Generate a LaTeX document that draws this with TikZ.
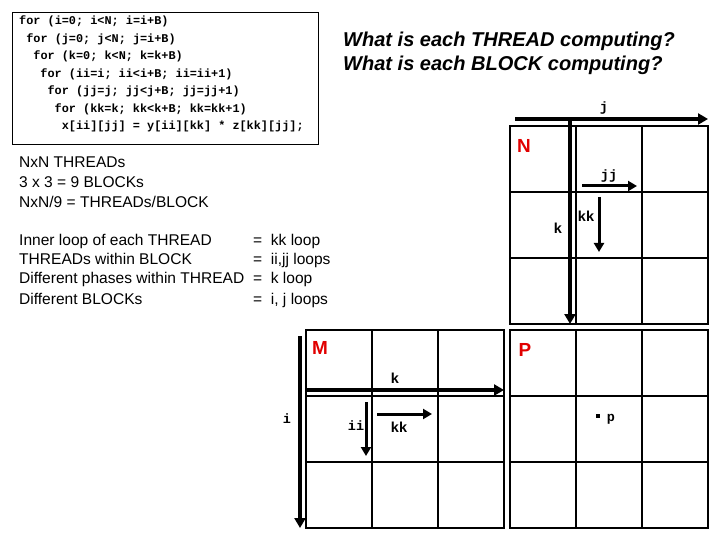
\documentclass[tikz,border=0pt]{standalone}
\usepackage{fontspec}
\setmainfont{Liberation Sans}
\newfontfamily\codefont{Liberation Mono}
\usetikzlibrary{arrows.meta}
\definecolor{mred}{RGB}{225,0,0}

\tikzset{
    cell/.style={draw, rectangle, minimum size=66bp, inner sep=0pt, line width=1.1bp},
    codeline/.style={anchor=base west, inner sep=0pt, font=\codefont\bfseries\fontsize{11.9}{14}\selectfont},
    txt/.style={anchor=base west, inner sep=0pt, font=\fontsize{15.6}{18}\selectfont},
    question/.style={anchor=base west, inner sep=0pt, font=\bfseries\itshape\fontsize{20.1}{23}\selectfont},
    mname/.style={inner sep=0pt, text=mred, font=\bfseries\fontsize{19}{22}\selectfont},
    idx/.style={inner sep=0pt, font=\codefont\bfseries\fontsize{13.5}{15}\selectfont},
    sidx/.style={inner sep=0pt, font=\bfseries\fontsize{14.5}{16}\selectfont},
    bigarrow/.style={line width=3.6bp, -{Triangle[length=10bp,width=11bp]}},
    smallarrow/.style={line width=3bp, -{Triangle[length=9bp,width=10bp]}}
}

\begin{document}
\begin{tikzpicture}[x=1bp, y=-1bp]
    \useasboundingbox (0,0) rectangle (720,540);

    % loop nest
    \node[draw, line width=0.9bp, inner sep=0pt, minimum width=306bp, minimum height=132bp, anchor=north west] (codebox) at (12,12) {};
    \foreach \n/\t in {0/{for (i=0; i<N; i=i+B)}, 1/{for (j=0; j<N; j=i+B)}, 2/{for (k=0; k<N; k=k+B)},
        3/{for (ii=i; ii<i+B; ii=ii+1)}, 4/{for (jj=j; jj<j+B; jj=jj+1)}, 5/{for (kk=k; kk<k+B; kk=kk+1)},
        6/{x[ii][jj] = y[ii][kk] * z[kk][jj];}} {
        \node[codeline] (code\n) at (19+7.1*\n, 25+17.5*\n) {\t};
    }

    \node[question] (q1) at (343,47) {What is each THREAD computing?};
    \node[question] (q2) at (343,71) {What is each BLOCK computing?};

    % notes
    \node[txt] (t1) at (19,168) {NxN THREADs};
    \node[txt] (t2) at (19,188) {3 x 3 = 9 BLOCKs};
    \node[txt] (t3) at (19,208) {NxN/9 = THREADs/BLOCK};
    \node[txt] (l1) at (19,246) {Inner loop of each THREAD};
    \node[txt] (l2) at (19,265) {THREADs within BLOCK};
    \node[txt] (l3) at (19,284) {Different phases within THREAD};
    \node[txt] (l4) at (19,304) {Different BLOCKs};
    \node[txt] (r1) at (253,246) {= \ kk loop};
    \node[txt] (r2) at (253,265) {= \ ii,jj loops};
    \node[txt] (r3) at (253,284) {= \ k loop};
    \node[txt] (r4) at (253,304) {= \ i, j loops};

    % the three matrices
    \foreach \m/\x/\y in {N/510/126, M/306/330, P/510/330} {
        \foreach \r in {0,1,2} {
            \foreach \c in {0,1,2} {
                \node[cell] (\m\r\c) at (\x+33+66*\c, \y+33+66*\r) {};
            }
        }
    }
    \node[mname] (nname) at (524,146) {N};
    \node[mname] (mname) at (320,348) {M};
    \node[mname] (pname) at (525,350) {P};

    % N
    \coordinate (j0) at (515,119);
    \coordinate (j1) at (708,119);
    \draw[bigarrow] (j0) -- (j1);
    \node[idx] (jlab) at (604,108) {j};
    \coordinate (kn0) at (570,121);
    \coordinate (kn1) at (570,324);
    \draw[bigarrow] (kn0) -- (kn1);
    \node[sidx] (knlab) at (558,228) {k};
    \coordinate (jj0) at (582,186);
    \coordinate (jj1) at (637,186);
    \draw[smallarrow] (jj0) -- (jj1);
    \node[idx] (jjlab) at (609,176) {jj};
    \coordinate (kkn0) at (599,197);
    \coordinate (kkn1) at (599,252);
    \draw[smallarrow] (kkn0) -- (kkn1);
    \node[sidx] (kknlab) at (586,216) {kk};

    % M
    \coordinate (i0) at (300,336);
    \coordinate (i1) at (300,528);
    \draw[bigarrow] (i0) -- (i1);
    \node[idx] (ilab) at (287,419) {i};
    \coordinate (km0) at (306,390);
    \coordinate (km1) at (504,390);
    \draw[bigarrow] (km0) -- (km1);
    \node[sidx] (kmlab) at (395,378) {k};
    \coordinate (ii0) at (366,402);
    \coordinate (ii1) at (366,456);
    \draw[smallarrow] (ii0) -- (ii1);
    \node[idx] (iilab) at (356,426) {ii};
    \coordinate (kkm0) at (377,414);
    \coordinate (kkm1) at (432,414);
    \draw[smallarrow] (kkm0) -- (kkm1);
    \node[sidx] (kkmlab) at (399,427) {kk};

    % P
    \node[fill, inner sep=0pt, minimum size=3.5bp] (pdot) at (598,416) {};
    \node[idx] (plab) at (611,419) {p};
\end{tikzpicture}
\end{document}
